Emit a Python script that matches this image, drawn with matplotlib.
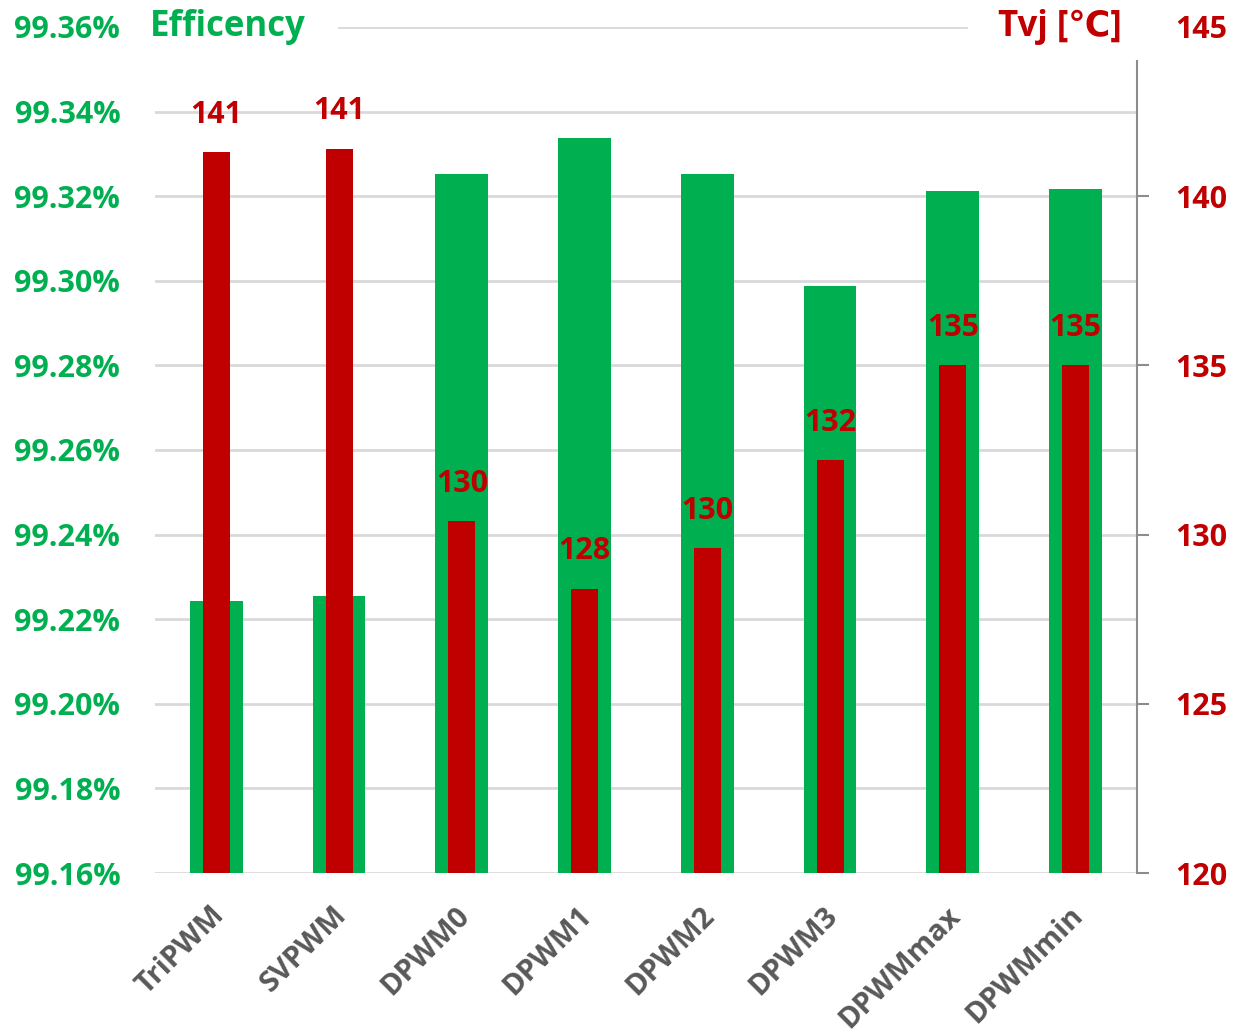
import matplotlib.pyplot as plt
import matplotlib.transforms as mtransforms
import numpy as np

categories = ["TriPWM", "SVPWM", "DPWM0", "DPWM1", "DPWM2", "DPWM3", "DPWMmax", "DPWMmin"]
efficiency = [99.2243, 99.2255, 99.3252, 99.3338, 99.3252, 99.2988, 99.3212, 99.3217]  # %
tvj = [141.3, 141.4, 130.4, 128.4, 129.6, 132.2, 135.0, 135.0]  # °C
tvj_labels = ["141", "141", "130", "128", "130", "132", "135", "135"]

eff_ticks = [99.16, 99.18, 99.20, 99.22, 99.24, 99.26, 99.28, 99.30, 99.32, 99.34, 99.36]
tvj_ticks = [120, 125, 130, 135, 140, 145]

GREEN = "#00b050"
RED = "#c00000"
GRAY = "#595959"
GRID = "#d9d9d9"

plt.rcParams['font.family'] = ['Open Sans', 'DejaVu Sans']
plt.rcParams['font.weight'] = 'bold'

fig = plt.figure(figsize=(12.35, 10.34), dpi=100)
ax = fig.add_axes([0.1255, 0.1557, 0.7951, 0.8182])
ax2 = ax.twinx()

x = np.arange(len(categories))

# gridlines drawn by hand, top one leaves space for the titles
for v in eff_ticks[:-1]:
    ax.axhline(v, color=GRID, lw=2, zorder=0)
ax.axhline(eff_ticks[-1], xmin=0.187, xmax=0.826, color=GRID, lw=2, zorder=0)

ax.bar(x, efficiency, width=0.43, bottom=0, color=GREEN, zorder=2)
ax.set_ylim(eff_ticks[0], eff_ticks[-1])
ax.set_xlim(-0.5, len(categories) - 0.5)
ax.set_yticks(eff_ticks)
ax.set_yticklabels([f"{v:.2f}%" for v in eff_ticks])
ax.tick_params(axis='y', length=0, pad=25, labelsize=22, labelcolor=GREEN)
ax.set_xticks(x)
ax.set_xticklabels(categories, rotation=45, ha='right', rotation_mode='anchor',
                   fontsize=21, color=GRAY)
ax.tick_params(axis='x', length=0, pad=20)
shift = mtransforms.ScaledTranslation(-7 / 100, 0, fig.dpi_scale_trans)
for lbl in ax.get_xticklabels():
    lbl.set_transform(lbl.get_transform() + shift)
for s in ax.spines.values():
    s.set_visible(False)

bars = ax2.bar(x, tvj, width=0.22, color=RED, zorder=3)
ax2.set_ylim(tvj_ticks[0], tvj_ticks[-1])
ax2.set_yticks(tvj_ticks)
ax2.tick_params(axis='y', length=8.5, width=1.5, color="#8c8c8c", pad=19,
                labelsize=22, labelcolor=RED)
ax2.yaxis.get_major_ticks()[-1].tick2line.set_visible(False)
for s in ["top", "left", "bottom"]:
    ax2.spines[s].set_visible(False)
ax2.spines["right"].set_color("#8c8c8c")
ax2.spines["right"].set_linewidth(1.5)
ax2.spines["right"].set_bounds(120, 144.0)

for xi, v, lab in zip(x, tvj, tvj_labels):
    ax2.annotate(lab, (xi, v), xytext=(0, 27), textcoords='offset points',
                 ha='center', va='center', fontsize=22, color=RED, fontweight='bold')

fig.text(150 / 1235, 1 - 27 / 1034, "Efficency", ha='left', va='center',
         fontsize=25, color=GREEN, fontweight='bold')
fig.text(1122 / 1235, 1 - 27 / 1034, "Tvj [℃]", ha='right', va='center',
         fontsize=25, color=RED, fontweight='bold')

fig.savefig("out.png", dpi=100)
